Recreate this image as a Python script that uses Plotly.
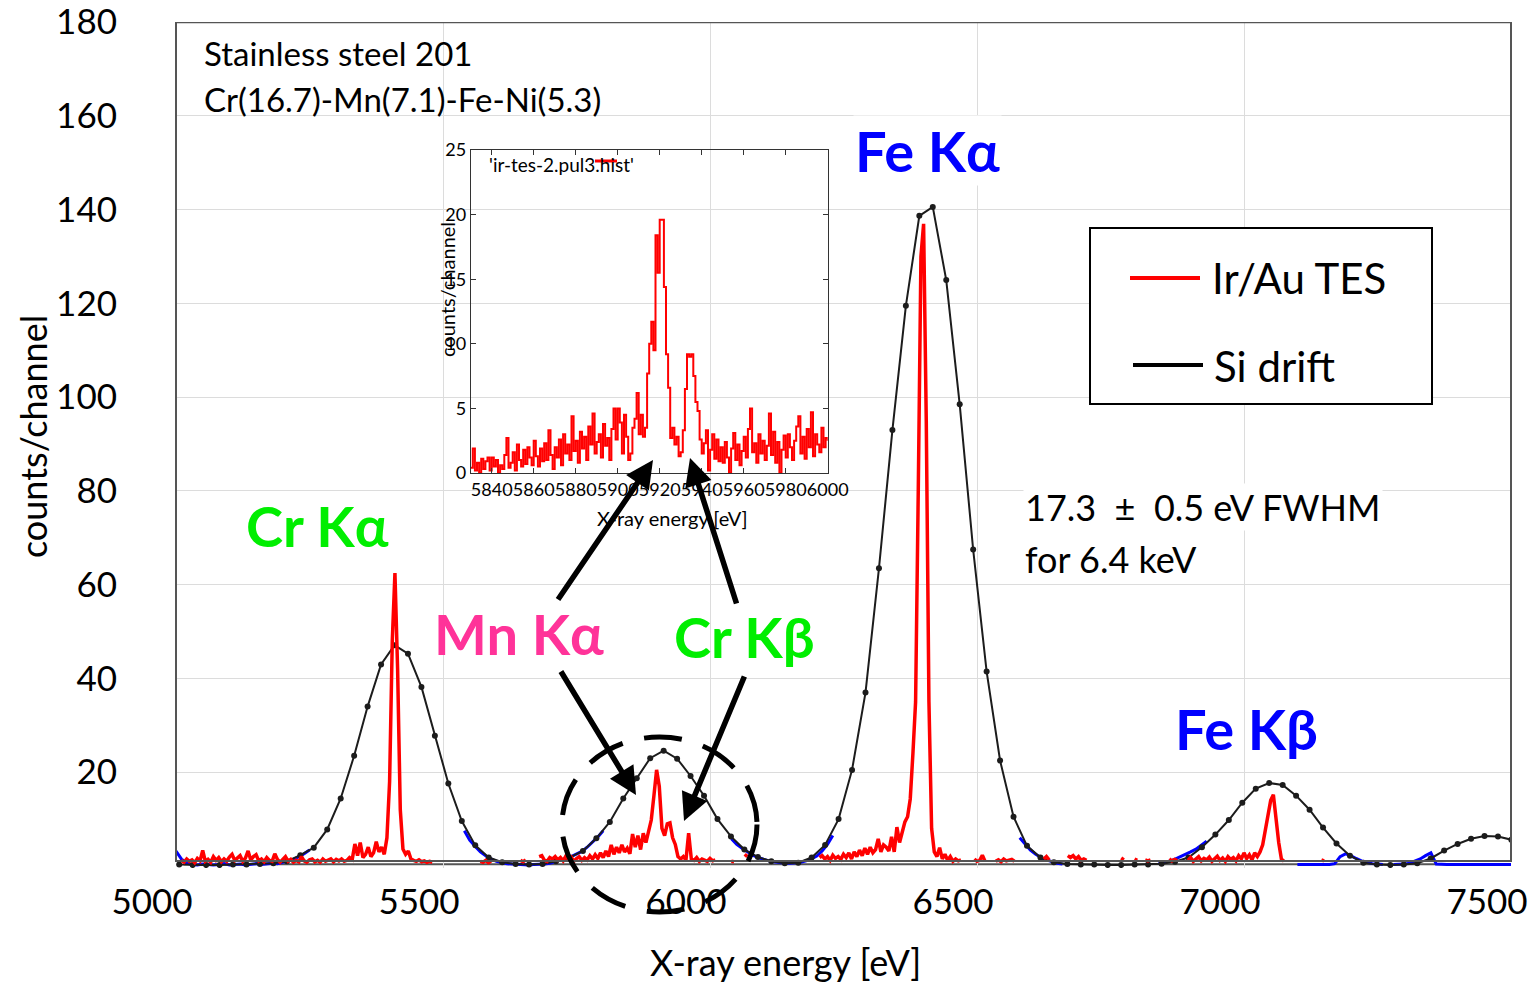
import plotly.graph_objects as go

# ---------------- data ----------------
# Si drift spectrum (black, ~25.2 eV bins starting at 5006 eV)
si_start = 5006.0
si_step = 25.2
si_drift = [0.3, 0.2, 0.2, 0.2, 0.3, 0.3, 0.4, 0.6, 1.0, 2.3,
            3.9, 7.8, 14.4, 23.5, 34.0, 43.0, 47.1, 45.3, 38.2, 27.8,
            17.6, 9.6, 4.4, 1.8, 0.8, 0.4, 0.3, 0.4, 1.0, 1.8,
            3.2, 5.9, 9.4, 14.4, 18.7, 23.0, 24.6, 22.9, 19.2, 15.0,
            10.0, 6.3, 3.5, 1.9, 1.0, 0.6, 0.7, 1.8, 4.5, 10.0,
            20.5, 37.0, 63.5, 93.0, 119.5, 138.7, 140.6, 125.0, 98.5, 67.5,
            41.5, 22.5, 10.5, 4.3, 1.8, 0.8, 0.4, 0.3, 0.3, 0.2,
            0.2, 0.3, 0.3, 0.5, 0.9, 1.8, 4.0, 6.7, 9.8, 13.5,
            16.5, 17.7, 17.3, 15.0, 12.0, 8.2, 4.8, 2.2, 0.7, 0.3,
            0.2, 0.3, 0.6, 1.6, 3.3, 4.7, 5.8, 6.4, 6.3, 5.6]

# fine-binned Si drift points near the baseline (blue), 10 eV steps, segments
blue_step = 10.0
blue_segments = [
    (5000, [3.2, 1.5, 0.6, 0.3, 0.2, 0.4, 0.3, 0.2, 0.3, 0.5, 0.2, 0.3, 0.4,
            0.2, 0.3, 0.5, 0.3, 0.4, 0.6, 0.5, 0.8, 1.0, 1.4, 2.0, 2.6, 3.4]),
    (5540, [7.5, 5.5, 4.2, 3.0, 2.2, 1.5, 1.0, 0.7, 0.5, 0.4, 0.3, 0.3, 0.2, 0.3,
            0.3, 0.4, 0.6, 0.9, 1.2, 1.6, 2.0, 2.6, 3.1, 4.0, 5.0, 6.2, 7.5]),
    (6040, [5.8, 4.6, 3.8, 3.0, 2.3, 1.8, 1.4, 1.1, 0.9, 0.7, 0.6, 0.6, 0.7, 0.8,
            1.1, 1.5, 2.1, 3.2, 4.6, 6.5]),
    (6580, [6.0, 4.6, 3.4, 2.5, 1.8, 1.3, 0.9, 0.6, 0.4]),
    (6840, [0.5, 0.7, 1.0, 1.4, 1.9, 2.4, 3.0, 3.6, 4.4, 5.3]),
    (7100, [0.3, 0.3, 0.3, 0.4, 0.3, 0.4, 0.3, 0.5, 2.0, 2.6, 2.2, 1.6, 1.1, 0.8,
            0.5, 0.4, 0.3]),
    (7280, [0.3, 0.3, 0.4, 0.6, 1.0, 1.5, 2.2, 2.8, 0.4, 0.3, 0.3, 0.3, 0.3, 0.3,
            0.3, 0.3, 0.3, 0.3, 0.3, 0.3, 0.3, 0.3, 0.3]),
]

# Ir/Au TES spectrum (red), 5 eV steps, segments (gaps = no counts drawn)
tes_step = 5.0
tes_segments = [
    (5010, [1.2, 0.8, 1.5, 1.0, 1.3, 0.7, 1.6, 1.1, 3.3, 1.0,
            1.4, 0.8, 2.0, 1.2, 1.8, 0.9, 1.5, 1.0, 1.9, 2.5,
            1.2, 1.6, 2.2, 1.0, 1.7, 3.2, 1.3, 2.0, 2.4, 1.1,
            1.5, 0.9, 1.8, 1.2, 1.0, 2.6, 1.4, 0.8, 1.3, 2.0,
            1.0, 1.4, 0.8, 1.2, 0.9, 2.0, 1.1, 0.8, 1.3, 1.5,
            0.9, 1.2, 0.8, 1.5, 1.0, 1.3, 1.5, 0.9, 1.4, 1.1,
            1.5, 1.0, 1.2, 1.8, 1.4, 4.7, 2.2, 5.0, 1.8, 2.5,
            4.0, 2.0, 2.8, 5.2, 3.0,
            4.0, 2.5, 6.0, 18.0, 48.0, 62.5, 42.0, 12.0, 3.6, 2.5,
            3.2, 1.5, 1.2, 1.0, 1.3, 0.9, 1.1, 0.8, 1.0, 0.8]),
    (5570, [1.0, 0.8, 1.2, 0.7, 1.0]),
    (5645, [1.2, 0.9, 1.3]),
    (5680, [2.0, 2.2, 1.2, 1.0, 1.8, 1.5, 2.0, 1.3, 1.8, 1.1,
            2.1, 1.4, 1.9, 1.0, 1.6, 2.0, 1.2, 1.8, 1.3, 2.2,
            1.5, 2.4, 1.6, 2.8, 1.8, 3.2, 2.0, 4.5, 2.5, 4.0,
            2.8, 4.5, 3.0, 3.8, 2.6, 6.8, 4.0, 6.5, 3.5, 7.0,
            5.0, 7.5, 9.8, 15.0, 20.5, 17.0, 8.0, 6.5, 9.0, 9.2,
            6.0, 4.6, 2.0, 1.5, 2.0, 1.3, 7.0, 1.5, 1.2, 1.8,
            1.0, 1.5, 1.2, 1.0, 1.6, 1.1, 1.3]),
    (6040, [1.0, 0.9]),
    (6065, [2.5, 2.0]),
    (6205, [1.8, 2.2, 1.5, 2.0, 1.2, 2.3, 1.6, 2.0, 1.4, 2.5,
            1.8, 2.8, 1.5, 3.0, 2.0, 3.4, 2.2, 3.8, 2.5, 4.0,
            2.8, 3.5, 5.8, 3.0, 4.5, 4.0, 3.2, 6.2, 3.0, 8.3,
            5.0, 7.5, 9.4, 10.5, 14.3, 24.0, 35.0, 80.0, 130.0, 137.0,
            95.0, 35.0, 8.0, 3.0, 2.0, 3.9, 1.5, 2.5, 1.2, 2.0,
            1.0, 1.5, 1.1, 1.3]),
    (6495, [1.5, 1.0, 1.2, 2.3, 1.0]),
    (6535, [1.0, 1.3, 0.9, 1.5, 1.1, 1.2, 1.4, 1.0]),
    (6625, [1.5, 2.0, 1.3]),
    (6670, [2.2, 1.8, 2.2, 1.5, 2.0, 1.2, 1.5, 1.2]),
    (6770, [1.7, 1.3]),
    (6795, [1.5, 1.2]),
    (6815, [1.3, 1.1, 1.3]),
    (6860, [1.5, 1.1, 1.4, 1.2]),
    (6895, [1.2, 1.8, 1.0, 1.5, 2.0, 1.1, 1.6, 1.3, 1.9, 1.0,
            1.5, 2.1, 1.2, 1.7, 1.0, 2.0, 1.4, 1.8, 1.1, 2.2,
            1.5, 2.8, 1.6, 2.4, 1.3, 2.8, 2.0, 3.0, 4.5, 8.0,
            11.0, 14.0, 15.2, 10.0, 5.0, 1.5, 1.0]),
    (7145, [1.3, 1.1]),
]

# inset: 'ir-tes-2.pul3.hist', 1 eV bins from 5830 to 6000 eV
inset_start = 5830
inset_counts = [
    0.4, 1.9, 0.2, 0.8, 0.0, 1.1, 0.3, 0.9, 1.2, 0.2,
    1.2, 0.5, 1.0, 0.0, 0.6, 0.3, 1.4, 2.7, 0.4, 0.8,
    1.6, 0.2, 2.2, 1.0, 0.5, 1.8, 0.7, 2.0, 1.2, 0.6,
    2.5, 1.3, 0.5, 1.9, 0.9, 2.3, 1.0, 3.3, 1.4, 0.3,
    2.0, 1.2, 2.6, 0.6, 3.0, 1.5, 2.2, 1.0, 4.4, 1.7,
    2.5, 0.8, 3.2, 1.9, 2.8, 1.0, 3.6, 2.2, 4.6, 1.5,
    2.4, 3.0, 1.2, 3.8, 2.1, 2.7, 1.0, 3.4, 5.0, 2.6,
    5.0, 3.9, 1.5, 4.5, 2.8, 1.0, 1.5, 3.5, 4.2, 6.2,
    3.0, 4.5, 2.8, 3.5, 7.7, 10.0, 11.7, 9.5, 18.4, 15.5,
    19.6, 19.6, 14.4, 9.2, 6.6, 2.7, 3.5, 2.2, 2.8, 1.3,
    1.6, 3.3, 6.5, 9.2, 9.0, 9.2, 7.5, 5.5, 4.8, 2.6,
    1.5, 2.3, 3.3, 0.2, 1.8, 3.0, 1.1, 2.6, 0.9, 2.0,
    0.8, 2.4, 1.2, 0.0, 1.9, 3.1, 1.0, 2.2, 0.6, 1.7,
    2.8, 1.2, 3.4, 5.0, 1.6, 2.3, 0.8, 3.0, 1.5, 2.5,
    1.0, 2.1, 4.6, 1.4, 3.2, 0.8, 2.4, 0.0, 1.8, 2.9,
    1.2, 3.0, 2.0, 1.0, 2.5, 3.6, 4.4, 1.5, 2.8, 1.1,
    3.4, 2.0, 4.7, 1.3, 3.0, 2.2, 1.6, 3.5, 2.0, 2.7,
    2.5]

main_xticks = [5000, 5500, 6000, 6500, 7000, 7500]
main_yticks = [20, 40, 60, 80, 100, 120, 140, 160, 180]
inset_xticks = [5840, 5860, 5880, 5900, 5920, 5940, 5960, 5980, 6000]
inset_yticks = [0, 5, 10, 15, 20, 25]


# ---------------- helpers ----------------
def build(segments, step):
    xs, ys = [], []
    for start, vals in segments:
        for i, v in enumerate(vals):
            xs.append(start + step * i)
            ys.append(v)
        xs.append(None)
        ys.append(None)
    return xs, ys


si_x = [si_start + si_step * i for i in range(len(si_drift))]
blue_x, blue_y = build(blue_segments, blue_step)
tes_x, tes_y = build(tes_segments, tes_step)
inset_x = [inset_start + i for i in range(len(inset_counts))]

FONT = "Lato"
W, H = 1534, 983
ML, MR, MT, MB = 176, 23, 22, 115
PW, PH = W - ML - MR, H - MT - MB


def px(x):
    return (x - ML) / PW


def py(y):
    return (H - MB - y) / PH


fig = go.Figure()

fig.add_trace(go.Scatter(x=blue_x, y=blue_y, mode="lines",
                         line=dict(color="#0000ff", width=3),
                         showlegend=False, hoverinfo="skip"))
fig.add_trace(go.Scatter(x=si_x, y=si_drift, mode="lines+markers",
                         line=dict(color="#1c1c1c", width=2),
                         marker=dict(color="#1c1c1c", size=6),
                         name="Si drift", showlegend=False))
fig.add_trace(go.Scatter(x=tes_x, y=tes_y, mode="lines",
                         line=dict(color="#ff0000", width=3.5),
                         name="Ir/Au TES", showlegend=False))
fig.add_trace(go.Scatter(x=inset_x, y=inset_counts, mode="lines",
                         line=dict(color="#ff0000", width=2, shape="hv"),
                         xaxis="x2", yaxis="y2", showlegend=False))

fig.update_layout(
    width=W, height=H,
    margin=dict(l=ML, r=MR, t=MT, b=MB, autoexpand=False),
    paper_bgcolor="white", plot_bgcolor="rgba(0,0,0,0)",
    font=dict(family=FONT, color="black"),
    xaxis=dict(range=[5000, 7500], tickvals=main_xticks,
               ticktext=[str(v) for v in main_xticks],
               showgrid=True, gridcolor="#dcdcdc", gridwidth=1,
               zeroline=False, showline=False, ticks="", automargin=False,
               ticklabeloverflow="allow",
               tickfont=dict(family=FONT, size=35, color="black"),
               ticklabelshift=-24, ticklabelstandoff=10),
    yaxis=dict(range=[-0.43, 180.05], tickvals=main_yticks,
               showgrid=True, gridcolor="#dcdcdc", gridwidth=1,
               zeroline=False, showline=False, ticks="", automargin=False,
               ticklabeloverflow="allow",
               tickfont=dict(family=FONT, size=35, color="black"),
               ticklabelstandoff=58),
    xaxis2=dict(domain=[px(470.7), px(827.7)], anchor="y2",
                range=[5830, 6000], tickvals=inset_xticks,
                ticktext=[str(v) for v in inset_xticks], tickangle=0,
                showgrid=False, zeroline=False, showline=True, automargin=False,
                ticklabeloverflow="allow",
                linecolor="#333", linewidth=1, mirror="ticks",
                ticks="inside", ticklen=5, tickcolor="#333",
                tickfont=dict(family=FONT, size=18, color="black")),
    yaxis2=dict(domain=[py(473), py(150)], anchor="x2",
                range=[0, 25], tickvals=inset_yticks,
                showgrid=False, zeroline=False, showline=True, automargin=False,
                ticklabeloverflow="allow",
                linecolor="#333", linewidth=1, mirror="ticks",
                ticks="inside", ticklen=5, tickcolor="#333",
                tickfont=dict(family=FONT, size=18, color="black")),
)

shapes = []
# pasted-spectrum baseline and frame of the main plot
shapes.append(dict(type="line", xref="x", yref="y", x0=5015, x1=7500, y0=0.35, y1=0.35,
                   line=dict(color="#555", width=2), layer="below"))
shapes.append(dict(type="rect", xref="paper", yref="y", x0=0, x1=1, y0=1.07, y1=180,
                   line=dict(color="#555", width=2)))
# legend box
shapes.append(dict(type="rect", xref="paper", yref="paper",
                   x0=px(1090), x1=px(1432), y0=py(404), y1=py(228),
                   line=dict(color="black", width=2), fillcolor="white"))
shapes.append(dict(type="line", xref="paper", yref="paper",
                   x0=px(1130), x1=px(1200), y0=py(278), y1=py(278),
                   line=dict(color="#ff0000", width=4)))
shapes.append(dict(type="line", xref="paper", yref="paper",
                   x0=px(1133), x1=px(1203), y0=py(365), y1=py(365),
                   line=dict(color="black", width=4)))
# dashed ellipse around the Mn K-alpha / Cr K-beta region
shapes.append(dict(type="circle", xref="paper", yref="paper",
                   x0=px(562), x1=px(757), y0=py(912), y1=py(737),
                   line=dict(color="black", width=5, dash="38px,22px")))
# inset key sample line
shapes.append(dict(type="line", xref="paper", yref="paper",
                   x0=px(595), x1=px(617), y0=py(161), y1=py(161),
                   line=dict(color="#ff0000", width=3)))
fig.update_layout(shapes=shapes)

ann = []


def text(x, y, s, size, color="black", anchor="left", bold=False, bg=None, angle=0):
    d = dict(xref="paper", yref="paper", x=px(x), y=py(y),
             text=("<b>%s</b>" % s) if bold else s, showarrow=False,
             xanchor=anchor, yanchor="middle", textangle=angle,
             font=dict(family=FONT, size=size, color=color))
    if bg:
        d["bgcolor"] = bg
    ann.append(d)


text(202, 53, "Stainless steel 201", 33)
text(202, 99, "Cr(16.7)-Mn(7.1)-Fe-Ni(5.3)", 33)
text(928, 150, "Fe Kα", 56, color="#0000ff", anchor="center", bold=True, bg="white")
text(317, 525, "Cr Kα", 56, color="#00ee00", anchor="center", bold=True)
text(519, 633, "Mn Kα", 56, color="#ff3399", anchor="center", bold=True)
text(744, 636, "Cr Kβ", 56, color="#00ee00", anchor="center", bold=True)
text(1246, 728, "Fe Kβ", 56, color="#0000ff", anchor="center", bold=True)
text(1023, 507, "17.3 \u00a0± \u00a00.5 eV FWHM", 36, bg="white")
text(1023, 559, "for 6.4 keV", 36)
text(1210, 278, "Ir/Au TES", 42)
text(1212, 366, "Si drift", 42)
text(33, 437, "counts/channel", 36, anchor="center", angle=-90)
text(785, 962, "X-ray energy [eV]", 36, anchor="center")
# inset texts
text(487, 165, "'ir-tes-2.pul3.hist'", 19)
text(672, 518, "X-ray energy [eV]", 20, anchor="center")
text(447, 290, "counts/channel", 20, anchor="center", angle=-90)

# arrows: (tail px, tail py, tip px, tip py)
arrows = [(557, 601, 653, 460), (737, 605, 690, 458),
          (560, 670, 636, 795), (745, 675, 684, 821)]
for tx, ty, hx, hy in arrows:
    ann.append(dict(xref="paper", yref="paper", x=px(hx), y=py(hy),
                    ax=tx - hx, ay=ty - hy, axref="pixel", ayref="pixel",
                    text="", showarrow=True, arrowhead=2, arrowsize=1.0,
                    arrowwidth=5.5, arrowcolor="black", standoff=0))

fig.update_layout(annotations=ann)

fig.write_html("out.html")
